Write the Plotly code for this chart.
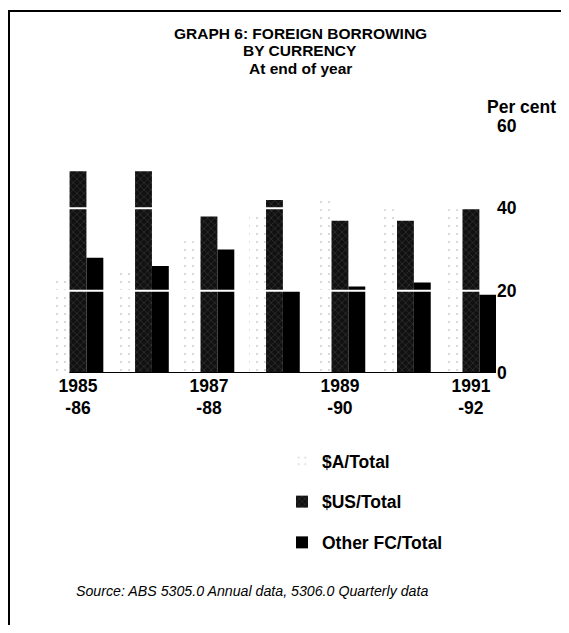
import plotly.graph_objects as go

years = ["1985-86", "1986-87", "1987-88", "1988-89", "1989-90", "1990-91", "1991-92"]
aud_total = [23, 25, 32, 38, 42, 41, 41]
usd_total = [49, 49, 38, 42, 37, 37, 40]
other_total = [28, 26, 30, 20, 21, 22, 19]
tick_years = ["1985-86", "1987-88", "1989-90", "1991-92"]
tick_text = ["1985<br>-86", "1987<br>-88", "1989<br>-90", "1991<br>-92"]

FONT = "Liberation Sans, Arial, Helvetica, sans-serif"
OFF = 8  # page body margin
W, H = 569 - 2 * OFF, 633 - 2 * OFF
L, R, T, B = 37, 65, 118, 252
pw, ph = W - L - R, H - T - B


def px_x(p):
    # p given in reference-window pixels
    return (p - OFF - L) / pw


def px_y(p):
    return (H - B - (p - OFF)) / ph


fig = go.Figure()
fig.add_trace(go.Bar(
    x=years, y=aud_total, name="$A/Total", legendgroup="a",
    marker=dict(color="white", line=dict(width=0),
                pattern=dict(shape=".", fgcolor="#a0a0a0", bgcolor="white", size=8, solidity=0.06)),
))
fig.add_trace(go.Bar(
    x=years, y=usd_total, name="$US/Total", legendgroup="b",
    marker=dict(color="#111111", line=dict(width=0),
                pattern=dict(shape="x", fgcolor="#8a8a8a", bgcolor="#111111", size=5, solidity=0.15)),
))
fig.add_trace(go.Bar(
    x=years, y=other_total, name="Other FC/Total", legendgroup="c",
    marker=dict(color="black", line=dict(width=0)),
))

shapes = [
    dict(type="line", xref="paper", yref="y", x0=0, x1=1, y0=20, y1=20,
         line=dict(color="white", width=2), layer="above"),
    dict(type="line", xref="paper", yref="y", x0=0, x1=1, y0=40, y1=40,
         line=dict(color="white", width=2), layer="above"),
    dict(type="line", xref="x", yref="y", x0=-0.13, x1=6.383, y0=0, y1=0,
         line=dict(color="black", width=2), layer="above"),
    # frame
    dict(type="line", xref="paper", yref="paper", x0=px_x(9), x1=px_x(9), y0=px_y(11), y1=px_y(625),
         line=dict(color="black", width=2)),
    dict(type="line", xref="paper", yref="paper", x0=px_x(8), x1=px_x(561), y0=px_y(11), y1=px_y(11),
         line=dict(color="black", width=2)),
]

title_lines = ["GRAPH 6: FOREIGN BORROWING", "BY CURRENCY", "At end of year"]
title_y = [33, 51, 69]

annotations = [
    dict(text="<b>%s</b>" % t, xref="paper", yref="paper", x=px_x(300), y=px_y(yy),
         xanchor="center", yanchor="middle", showarrow=False,
         font=dict(family=FONT, size=15.5, color="black"))
    for t, yy in zip(title_lines, title_y)
] + [
    dict(text="<b>Per cent</b>", xref="paper", yref="paper", x=px_x(485), y=px_y(107),
         xanchor="left", yanchor="middle", showarrow=False,
         font=dict(family=FONT, size=17.5, color="black")),
    dict(text="<i>Source: ABS 5305.0 Annual data, 5306.0 Quarterly data</i>",
         xref="paper", yref="paper", x=px_x(252), y=px_y(591), xanchor="center", yanchor="middle",
         showarrow=False, font=dict(family=FONT, size=14.2, color="black")),
]

fig.update_layout(
    width=W, height=H,
    margin=dict(l=L, r=R, t=T, b=B, pad=0),
    paper_bgcolor="white", plot_bgcolor="white",
    barmode="group", bargap=0.227, bargroupgap=0,
    font=dict(family=FONT, color="black"),
    showlegend=True,
    legend=dict(x=px_x(282), y=px_y(443), xanchor="left", yanchor="top",
                font=dict(family=FONT, size=17.5, color="black", weight="bold"),
                tracegroupgap=15, bgcolor="rgba(0,0,0,0)", traceorder="grouped"),
    shapes=shapes, annotations=annotations,
    xaxis=dict(range=[-0.504, 6.383], tickmode="array", tickvals=tick_years, ticktext=tick_text,
               showgrid=False, showline=False, ticks="", zeroline=False,
               tickfont=dict(family=FONT, size=17.5, color="black", weight="bold")),
    yaxis=dict(range=[0, 60], side="right", tickvals=[0, 20, 40, 60], showgrid=False,
               zeroline=False, showline=False, ticks="",
               tickfont=dict(family=FONT, size=17.5, color="black", weight="bold")),
)

fig.write_html("out.html", config={"displayModeBar": False})
